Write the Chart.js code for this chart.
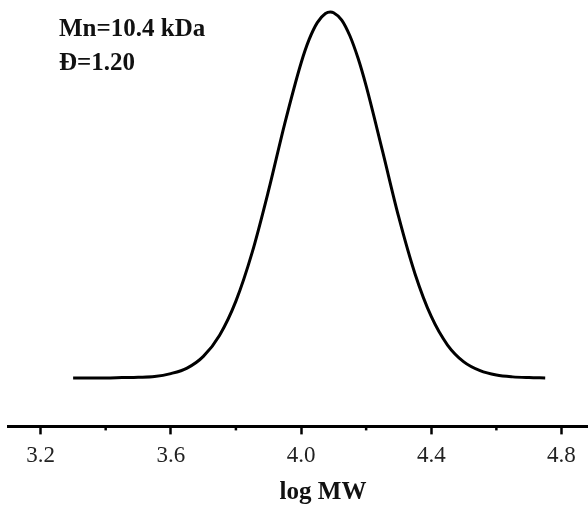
<!DOCTYPE html>
<html>
<head>
<meta charset="utf-8">
<script src="https://cdn.jsdelivr.net/npm/chart.js@4/dist/chart.umd.min.js"></script>
<style>
  html, body { margin: 0; padding: 0; background: #fff; overflow: hidden; }
  #wrap { position: relative; width: 638px; height: 508px; }
  .note { position: absolute; left: 59px; font: bold 25px "Liberation Serif", "Times New Roman", serif; line-height: 25px; color: #111; white-space: nowrap; }
</style>
</head>
<body>
<div id="wrap">
  <canvas id="gpc" width="638" height="508"></canvas>
  <div class="note" style="top:15px">Mn=10.4 kDa</div>
  <div class="note" style="top:49px">Đ=1.20</div>
</div>
<script>
  // GPC trace (normalised intensity)
  var logMW = [3.30, 3.35, 3.40, 3.45, 3.50, 3.55, 3.60, 3.65, 3.70, 3.75,
               3.80, 3.85, 3.90, 3.95, 4.00, 4.025, 4.05, 4.075, 4.09, 4.10,
               4.125, 4.15, 4.175, 4.20, 4.25, 4.30, 4.35, 4.40, 4.45, 4.50,
               4.55, 4.60, 4.65, 4.70, 4.75];
  var intensity = [0.000, 0.000, 0.000, 0.001, 0.002, 0.004, 0.012, 0.027, 0.059, 0.117,
                   0.210, 0.343, 0.511, 0.695, 0.860, 0.925, 0.971, 0.996, 1.000, 0.998,
                   0.978, 0.935, 0.874, 0.798, 0.621, 0.440, 0.285, 0.168, 0.090, 0.044,
                   0.020, 0.008, 0.003, 0.001, 0.000];

  var xMin = 3.1, xMax = 5.035, xStep = 0.2;
  var labelEvery = 0.4, firstLabel = 3.2;

  function isMajor(v) {
    var k = Math.round((v - firstLabel) * 100) / Math.round(labelEvery * 100);
    return Math.abs(k - Math.round(k)) < 1e-6;
  }

  var points = logMW.map(function(x, i){ return { x: x, y: intensity[i] }; });

  // short minor ticks between the labelled ones
  var minorTicks = {
    id: 'minorTicks',
    afterDraw: function(chart) {
      var sx = chart.scales.x, ctx = chart.ctx;
      ctx.save();
      ctx.strokeStyle = '#000';
      ctx.lineWidth = 2.5;
      sx.ticks.forEach(function(t){
        if (isMajor(t.value)) return;
        var px = sx.getPixelForValue(t.value);
        ctx.beginPath();
        ctx.moveTo(px, sx.top);
        ctx.lineTo(px, sx.top + 4);
        ctx.stroke();
      });
      ctx.restore();
    }
  };

  new Chart(document.getElementById('gpc').getContext('2d'), {
    type: 'line',
    data: {
      datasets: [{
        data: points,
        borderColor: '#000',
        borderWidth: 3,
        pointRadius: 0,
        fill: false,
        cubicInterpolationMode: 'monotone'
      }]
    },
    options: {
      responsive: false,
      animation: false,
      layout: { padding: { left: 8, right: 0, top: 0, bottom: 0 } },
      plugins: { legend: { display: false }, tooltip: { enabled: false } },
      scales: {
        x: {
          type: 'linear',
          min: xMin,
          max: xMax,
          border: { display: true, color: '#000', width: 3 },
          grid: {
            drawOnChartArea: false,
            tickLength: 8,
            tickWidth: 2.5,
            tickColor: function(c){ return isMajor(c.tick.value) ? '#000' : 'rgba(0,0,0,0)'; }
          },
          ticks: {
            stepSize: xStep,
            includeBounds: false,
            autoSkip: false,
            maxRotation: 0,
            padding: 8,
            color: '#222',
            font: { family: '"Liberation Serif", serif', size: 23 },
            callback: function(v){ return isMajor(v) ? v.toFixed(1) : ''; }
          },
          title: {
            display: true,
            text: 'log MW',
            color: '#111',
            padding: { top: 0, bottom: 0 },
            font: { family: '"Liberation Serif", serif', size: 25, weight: 'bold' }
          }
        },
        y: {
          display: false,
          min: -0.1323,
          max: 1.0327
        }
      }
    },
    plugins: [minorTicks]
  });
</script>
</body>
</html>
